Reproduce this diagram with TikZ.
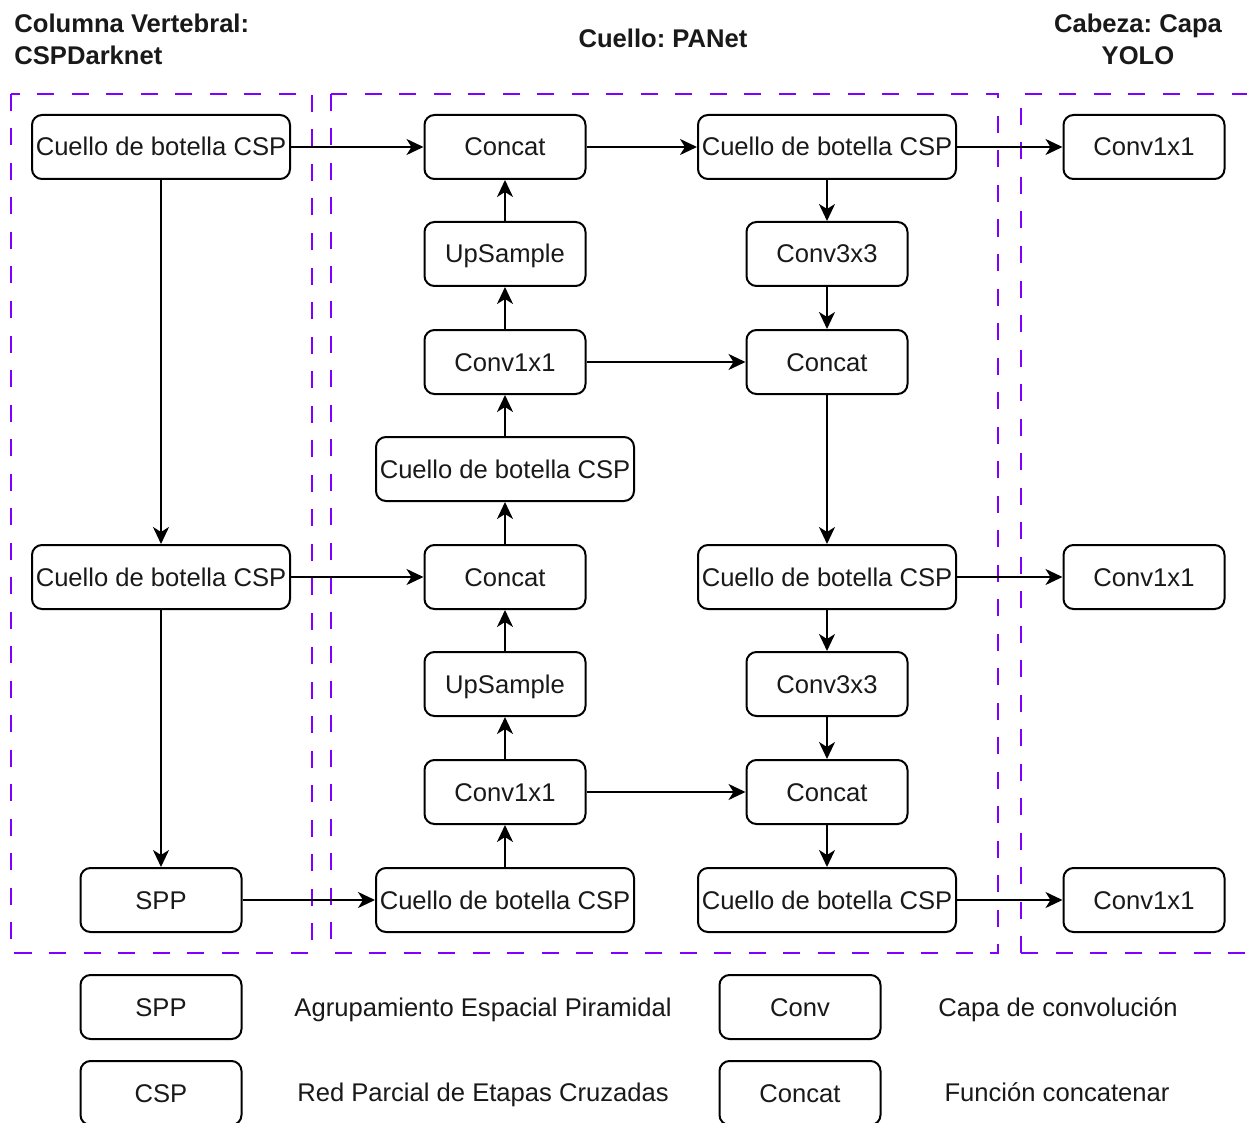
\documentclass[tikz,border=0pt]{standalone}
\usepackage{fontspec}
\setmainfont{Liberation Sans}
\usetikzlibrary{arrows.meta}
\definecolor{grp}{HTML}{7F00FF}
\frenchspacing
\begin{document}
\begin{tikzpicture}[x=0.5pt,y=-0.5pt,
  box/.style={draw=black,line width=1pt,rounded corners=5pt,minimum width=80.5pt,minimum height=32pt,inner sep=0pt,text height=9.5pt,text depth=0.5pt,font=\fontsize{12.8pt}{15pt}\selectfont,text=black!90},
  wbox/.style={box,minimum width=129pt},
  lbl/.style={inner sep=0pt,text height=9.5pt,text depth=0.5pt,font=\fontsize{12.8pt}{15pt}\selectfont,text=black!90},
  ttl/.style={inner sep=0pt,font=\fontsize{12.8pt}{16pt}\selectfont\bfseries,text=black!90},
  grpbox/.style={draw=grp,line width=1pt,dash pattern=on 8.5pt off 8.75pt},
  arr/.style={draw=black,line width=1pt,-{Stealth[length=8.5pt,width=8pt,inset=2.5pt]}}]
\useasboundingbox (0,0) rectangle (1247,1123);
\clip (0,0) rectangle (1247,1123);
\fill[white] (0,0) rectangle (1247,1123);

% group frames
\draw[grpbox] (11,94) rectangle (312,953);
\draw[grpbox] (331,94) rectangle (998,953);
\draw[grpbox] (1021,953) -- (1021,94) -- (1260,94);
\draw[grpbox] (1021,953) -- (1260,953);

% titles
\node[ttl,anchor=west,align=left] (t1) at (14,39) {Columna Vertebral:\\CSPDarknet};
\node[ttl] (t2) at (663,38) {Cuello: PANet};
\node[ttl,align=center] (t3) at (1138,39) {Cabeza: Capa\\YOLO};

% backbone
\node[wbox] (b1) at (161,147) {Cuello de botella CSP};
\node[wbox] (b2) at (161,577) {Cuello de botella CSP};
\node[box]  (spp) at (161,900) {SPP};

% neck left column
\node[box]  (nc1) at (505,147) {Concat};
\node[box]  (nu1) at (505,254) {UpSample};
\node[box]  (nv1) at (505,362) {Conv1x1};
\node[wbox] (ns1) at (505,469) {Cuello de botella CSP};
\node[box]  (nc2) at (505,577) {Concat};
\node[box]  (nu2) at (505,684) {UpSample};
\node[box]  (nv2) at (505,792) {Conv1x1};
\node[wbox] (ns2) at (505,900) {Cuello de botella CSP};

% neck right column
\node[wbox] (ms1) at (827,147) {Cuello de botella CSP};
\node[box]  (mv1) at (827,254) {Conv3x3};
\node[box]  (mc1) at (827,362) {Concat};
\node[wbox] (ms2) at (827,577) {Cuello de botella CSP};
\node[box]  (mv2) at (827,684) {Conv3x3};
\node[box]  (mc2) at (827,792) {Concat};
\node[wbox] (ms3) at (827,900) {Cuello de botella CSP};

% head
\node[box] (h1) at (1144,147) {Conv1x1};
\node[box] (h2) at (1144,577) {Conv1x1};
\node[box] (h3) at (1144,900) {Conv1x1};

% connectors
\draw[arr] (b1) -- (nc1);
\draw[arr] (b1) -- (b2);
\draw[arr] (b2) -- (nc2);
\draw[arr] (b2) -- (spp);
\draw[arr] (spp) -- (ns2);
\draw[arr] (ns2) -- (nv2);
\draw[arr] (nv2) -- (nu2);
\draw[arr] (nu2) -- (nc2);
\draw[arr] (nc2) -- (ns1);
\draw[arr] (ns1) -- (nv1);
\draw[arr] (nv1) -- (nu1);
\draw[arr] (nu1) -- (nc1);
\draw[arr] (nc1) -- (ms1);
\draw[arr] (ms1) -- (mv1);
\draw[arr] (mv1) -- (mc1);
\draw[arr] (nv1) -- (mc1);
\draw[arr] (mc1) -- (ms2);
\draw[arr] (ms2) -- (mv2);
\draw[arr] (mv2) -- (mc2);
\draw[arr] (nv2) -- (mc2);
\draw[arr] (mc2) -- (ms3);
\draw[arr] (ms1) -- (h1);
\draw[arr] (ms2) -- (h2);
\draw[arr] (ms3) -- (h3);

% legend
\node[box] (lspp) at (161,1007) {SPP};
\node[box] (lcsp) at (161,1093) {CSP};
\node[box] (lconv) at (800,1007) {Conv};
\node[box] (lcat) at (800,1093) {Concat};
\node[lbl] (tspp) at (483,1007) {Agrupamiento Espacial Piramidal};
\node[lbl] (tcsp) at (483,1092) {Red Parcial de Etapas Cruzadas};
\node[lbl] (tconv) at (1058,1007) {Capa de convolución};
\node[lbl] (tcat) at (1057,1092) {Función concatenar};
\end{tikzpicture}
\end{document}
